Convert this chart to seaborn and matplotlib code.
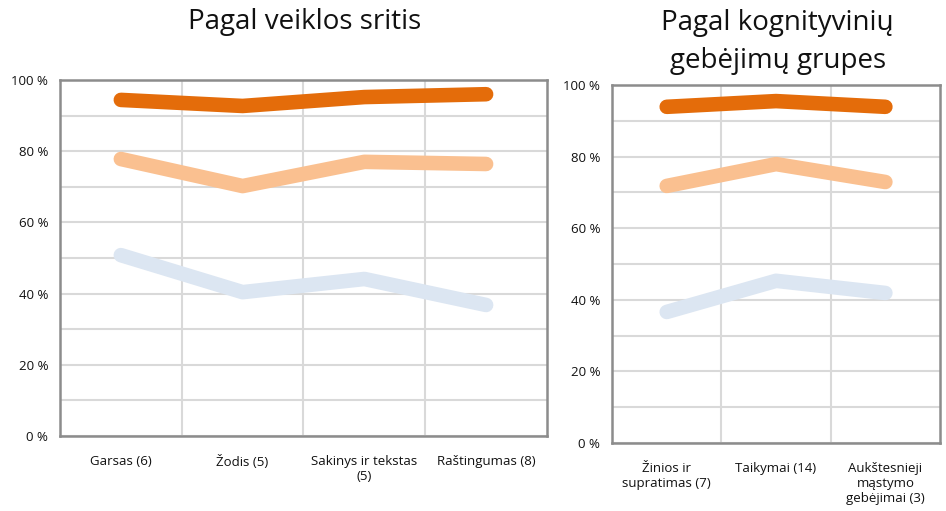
import pandas as pd
import numpy as np
import matplotlib
matplotlib.use("Agg")
import matplotlib.pyplot as plt
from matplotlib.ticker import MultipleLocator, FixedLocator
import seaborn as sns

# Data (percent)
areas = ["Garsas (6)", "Žodis (5)", "Sakinys ir tekstas\n(5)", "Raštingumas (8)"]
areas_high = [94.4, 92.7, 95.2, 96.0]
areas_mid = [77.8, 70.2, 77.0, 76.4]
areas_low = [50.8, 40.4, 44.1, 36.8]

groups = ["Žinios ir\nsupratimas (7)", "Taikymai (14)", "Aukštesnieji\nmąstymo\ngebėjimai (3)"]
groups_high = [93.9, 95.5, 93.9]
groups_mid = [71.8, 77.9, 72.9]
groups_low = [36.6, 45.3, 41.9]

series = ["aukštas", "vidutinis", "žemas"]
colors = {"aukštas": "#E46C0A", "vidutinis": "#FAC090", "žemas": "#DCE6F2"}

sns.set_style("white")
plt.rcParams["font.family"] = ["Open Sans", "DejaVu Sans"]


def long_df(cats, high, mid, low):
    rows = []
    for s, vals in zip(series, [high, mid, low]):
        for c, v in zip(cats, vals):
            rows.append({"cat": c, "value": v, "series": s})
    return pd.DataFrame(rows)


def draw(ax, cats, high, mid, low):
    df = long_df(cats, high, mid, low)
    # light series first so the dark line sits on top
    sns.lineplot(data=df, x="cat", y="value", hue="series", hue_order=series[::-1],
                 palette=colors, linewidth=10.5, legend=False, ax=ax,
                 solid_capstyle="round", solid_joinstyle="round", sort=False)
    n = len(cats)
    ax.set_xlim(-0.5, n - 0.5)
    ax.set_ylim(0, 100)
    ax.yaxis.set_minor_locator(MultipleLocator(10))
    ax.set_yticks(np.arange(0, 101, 20))
    ax.set_yticklabels([f"{v} %" for v in range(0, 101, 20)])
    ax.set_xticks(range(n))
    ax.set_xticklabels(cats)
    ax.xaxis.set_minor_locator(FixedLocator(np.arange(0.5, n - 0.5, 1)))
    ax.grid(which="both", axis="y", color="#d9d9d9", linewidth=1.5)
    ax.grid(which="minor", axis="x", color="#d9d9d9", linewidth=1.5)
    ax.grid(which="major", axis="x", visible=False)
    ax.set_axisbelow(True)
    ax.tick_params(axis="x", which="major", length=0, pad=14, labelsize=9.5, colors="#111111")
    ax.tick_params(axis="x", which="minor", length=5, width=1.5, color="#888888", direction="out")
    ax.tick_params(axis="y", which="major", length=5, width=1.5, color="#888888", labelsize=9.5,
                   labelcolor="#111111", direction="out")
    ax.tick_params(axis="y", which="minor", length=0)
    for sp in ax.spines.values():
        sp.set_visible(True)
        sp.set_color("#8c8c8c")
        sp.set_linewidth(1.8)
    ax.set_xlabel("")
    ax.set_ylabel("")


fig = plt.figure(figsize=(9.46, 5.11), dpi=100)
ax1 = fig.add_axes([0.0634, 0.1468, 0.5148, 0.6967])
ax2 = fig.add_axes([0.647, 0.1331, 0.3467, 0.7006])

draw(ax1, areas, areas_high, areas_mid, areas_low)
draw(ax2, groups, groups_high, groups_mid, groups_low)

fig.text(0.322, 0.957, "Pagal veiklos sritis", fontsize=20, ha="center", va="center", color="#111111")
fig.text(0.822, 0.918, "Pagal kognityvinių\ngebėjimų grupes", fontsize=20, ha="center", va="center",
         linespacing=1.45, color="#111111")

fig.savefig("out.png", dpi=100)
